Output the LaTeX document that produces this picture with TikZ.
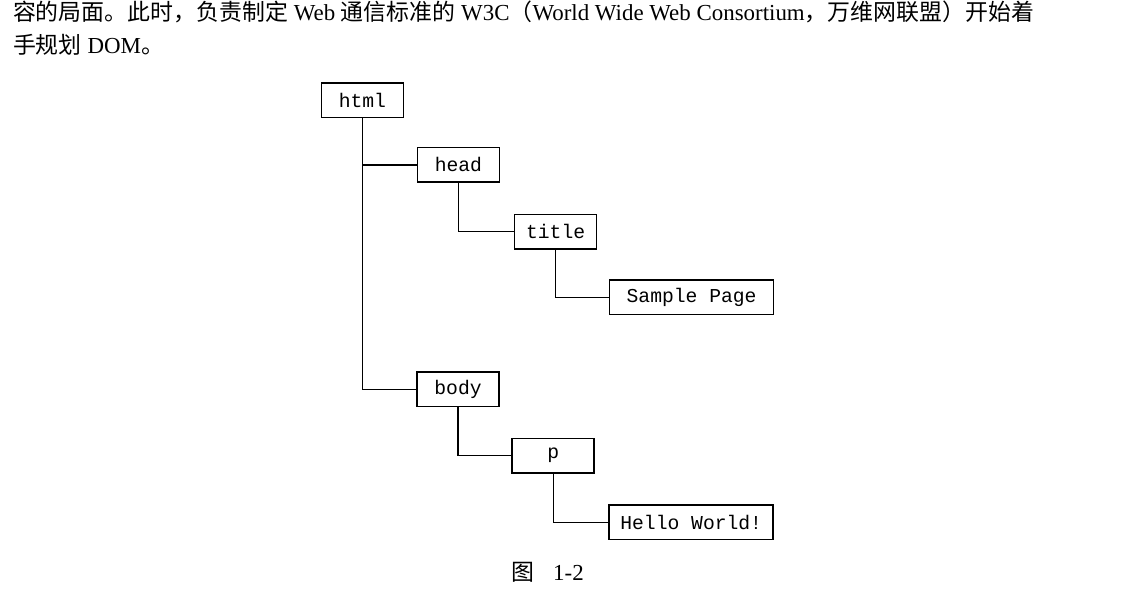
\documentclass[tikz,border=0pt]{standalone}
\usepackage{fontspec}
\setmainfont{Liberation Serif}
\setmonofont{Liberation Mono}
\newfontfamily\cjk{Noto Sans CJK SC}
\newcommand{\zh}[1]{{\cjk #1}}
\usetikzlibrary{positioning}

\begin{document}
\begin{tikzpicture}[font=\fontsize{16.3}{19}\selectfont,
	tag/.style={draw,line width=1.2pt,font=\ttfamily\fontsize{14}{16}\selectfont,
		minimum width=2.05cm,minimum height=0.86cm,inner sep=0pt},
	longtag/.style={tag,minimum width=4.1cm},
	link/.style={line width=1pt}]
	\useasboundingbox (0,0) rectangle (28.375,-15);
	% text above the figure
	\node[anchor=base west,inner sep=0pt] (line1) at (0.32,-0.5){\zh{容的局面。此时，负责制定} Web \zh{通信标准的} W3C\zh{（}World Wide Web Consortium\zh{，万维网联盟）开始着}};
	\node[anchor=base west,inner sep=0pt] (line2) at (0.32,-1.33){\zh{手规划} DOM\zh{。}};
	% tree
	\node[tag] (html) at (9.06,-2.51){html};
	\node[tag] (head) at (11.46,-4.12){head};
	\node[tag] (title) at (13.89,-5.79){title};
	\node[longtag] (sample) at (17.29,-7.43){Sample Page};
	\node[tag] (body) at (11.45,-9.73){body};
	\node[tag] (p) at (13.83,-11.39){p};
	\node[longtag] (hello) at (17.28,-13.06){Hello World!};
	\draw[link](html.south) |- (head.west);
	\draw[link](html.south) |- (body.west);
	\draw[link](head.south) |- (title.west);
	\draw[link](title.south) |- (sample.west);
	\draw[link](body.south) |- (p.west);
	\draw[link](p.south) |- (hello.west);
	% caption
	\node[anchor=base west,inner sep=0pt] (caption) at (12.78,-14.5){\zh{图}\hspace{0.47cm}1-2};
\end{tikzpicture}
\end{document}
